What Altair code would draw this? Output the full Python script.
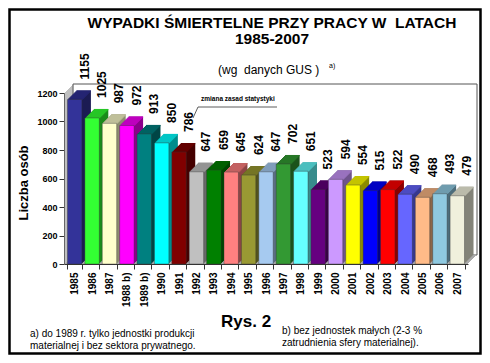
import altair as alt
import pandas as pd

# ---- data ----
labels = ["1985", "1986", "1987", "1988 b)", "1989 b)", "1990", "1991", "1992",
          "1993", "1994", "1995", "1996", "1997", "1998", "1999", "2000",
          "2001", "2002", "2003", "2004", "2005", "2006", "2007"]
values = [1155, 1025, 987, 972, 913, 850, 786, 647, 659, 645, 624, 647, 702,
          651, 523, 594, 554, 515, 522, 490, 468, 493, 479]
colors = ["#333399", "#33FF33", "#FFFFCC", "#FF00FF", "#008080", "#00FFFF",
          "#800000", "#C0C0C0", "#008000", "#FF8080", "#999933", "#A6CAF0",
          "#339933", "#66FFFF", "#660080", "#CC99FF", "#FFFF00", "#0000FF",
          "#FF0000", "#6666FF", "#FFBB88", "#8FC9E0", "#F0F0DC"]
y_ticks = [0, 200, 400, 600, 800, 1000, 1200]

title1 = "WYPADKI ŚMIERTELNE PRZY PRACY W\u00a0 LATACH"
title2 = "1985-2007"
subtitle = "(wg\u00a0 danych GUS )"
sub_note = "a)"
y_title = "Liczba osób"
annotation = "zmiana zasad statystyki"
fig_label = "Rys. 2"
note_a = ["a) do 1989 r. tylko jednostki produkcji", "materialnej i bez sektora prywatnego."]
note_b = ["b) bez jednostek małych (2-3 %", "zatrudnienia sfery materialnej)."]

FONT = "Liberation Sans"


def shade(h, f):
    h = h.lstrip("#")
    r, g, b = (int(h[i:i + 2], 16) for i in (0, 2, 4))
    return "#%02x%02x%02x" % (int(r * f), int(g * f), int(b * f))


side_colors = [shade(c, 0.55) for c in colors]
top_colors = [shade(c, 0.78) for c in colors]

df = pd.DataFrame({"label": labels, "value": values})
one = pd.DataFrame({"k": [0]})

W, H, D = 404, 171, 9

yscale = alt.Scale(domain=[0, 1200], nice=False, zero=True)
xscale = alt.Scale(domain=labels, paddingInner=0.17, paddingOuter=0.2)
xaxis = alt.Axis(title=None, labelAngle=270, labelFont=FONT, labelFontSize=10,
                 labelFontWeight="bold", labelColor="black", labelPadding=3,
                 tickBand="extent", tickSize=5, tickColor="#333333",
                 domainColor="#333333", labelLimit=100, zindex=1)
yaxis = alt.Axis(title=None, values=y_ticks, format="d", labelFont=FONT,
                 labelFontSize=9, labelFontWeight="bold", labelColor="black",
                 tickSize=5, labelPadding=2, grid=False, domainColor="#666666",
                 tickColor="#333333", zindex=1)

X = alt.X("label:N", scale=xscale, axis=xaxis, sort=labels)
Y = alt.Y("value:Q", scale=yscale, axis=yaxis)


def ydat(v):
    return alt.YDatum(v, type="quantitative", scale=yscale, axis=yaxis)


def col(rng):
    return alt.Color("label:N", scale=alt.Scale(domain=labels, range=rng), legend=None)


layers = []

# back wall
layers.append(
    alt.Chart(one).mark_rect(fill="white", stroke="#555555", strokeWidth=1,
                             yOffset=-D, y2Offset=-D)
    .encode(x=alt.value(D), x2=alt.value(W + D), y=ydat(1200), y2=alt.Y2Datum(0))
)
# floor
for k in range(D):
    layers.append(
        alt.Chart(one).mark_rect(fill="#A8A8A8", yOffset=-k - 1.3, y2Offset=-k)
        .encode(x=alt.value(k), x2=alt.value(W + k), y=ydat(0), y2=alt.Y2Datum(0))
    )
# left wall
for k in range(D):
    layers.append(
        alt.Chart(one).mark_rect(fill="#C0C0C0" if k < D - 1 else "#909090",
                                 yOffset=-k, y2Offset=-k)
        .encode(x=alt.value(k), x2=alt.value(k + 1.3), y=ydat(1200), y2=alt.Y2Datum(0))
    )

# bar sides (extrusion)
for k in range(D, 0, -1):
    layers.append(
        alt.Chart(df).mark_bar(xOffset=k, yOffset=-k, y2Offset=-k)
        .encode(x=X, y=Y, y2=alt.Y2Datum(0), color=col(side_colors))
    )
# bar tops
for k in range(D, 0, -1):
    layers.append(
        alt.Chart(df).mark_bar(xOffset=k, yOffset=-k, y2Offset=-k + 1.3)
        .encode(x=X, y=Y, y2=alt.Y2("value"), color=col(top_colors))
    )
# bar fronts
layers.append(
    alt.Chart(df).mark_bar(stroke="#333333", strokeWidth=0.4)
    .encode(x=X, y=Y, y2=alt.Y2Datum(0), color=col(colors))
)
# value labels
layers.append(
    alt.Chart(df).mark_text(angle=270, align="left", baseline="middle",
                            font=FONT, fontSize=12, fontWeight="bold",
                            color="black", xOffset=10, yOffset=-20)
    .encode(x=X, y=Y, text=alt.Text("value:Q"))
)


def txt(text, x, y, size, weight="normal", align="left", baseline="alphabetic", angle=0):
    return alt.Chart(one).mark_text(font=FONT, fontSize=size, fontWeight=weight,
                                    align=align, baseline=baseline, angle=angle,
                                    color="black").encode(
        x=alt.value(x), y=alt.value(y), text=alt.value(text))


# annotation
layers.append(txt(annotation, 137, 8, 6.5, "bold"))
layers.append(alt.Chart(one).mark_rule(color="#333333", strokeWidth=0.8)
              .encode(x=alt.value(134), x2=alt.value(213), y=alt.value(14), y2=alt.value(14)))
layers.append(alt.Chart(one).mark_rule(color="#333333", strokeWidth=0.8)
              .encode(x=alt.value(134), x2=alt.value(129), y=alt.value(14), y2=alt.value(25)))

# titles and notes
layers.append(txt(title1, 208, -65, 15.5, "bold", "center"))
layers.append(txt(title2, 208, -49, 15.5, "bold", "center"))
layers.append(txt(subtitle, 154, -19, 12))
layers.append(txt(sub_note, 265, -25, 7))
layers.append(txt(y_title, -40, 90, 13, "bold", "center", "middle", 270))
layers.append(txt(fig_label, 157, 234, 17, "bold"))
layers.append(txt(note_a[0], -34, 244, 10))
layers.append(txt(note_a[1], -34, 256, 10))
layers.append(txt(note_b[0], 218, 241, 10))
layers.append(txt(note_b[1], 218, 253, 10))

# frame
layers.append(alt.Chart(one).mark_rect(fill="white", fillOpacity=0, stroke="black",
                                       strokeWidth=2.5)
              .encode(x=alt.value(-56 + 1.5), x2=alt.value(418 - 1.5),
                      y=alt.value(-85 + 1.5), y2=alt.value(262 - 1.5)))

chart = alt.layer(*layers).resolve_scale(color="independent").properties(
    width=W, height=H, autosize="none",
    padding={"left": 56, "top": 85, "right": 14, "bottom": 91},
    background="white",
).configure_view(stroke=None)

chart.save("out.html", embed_options={"renderer": "svg", "actions": False})
